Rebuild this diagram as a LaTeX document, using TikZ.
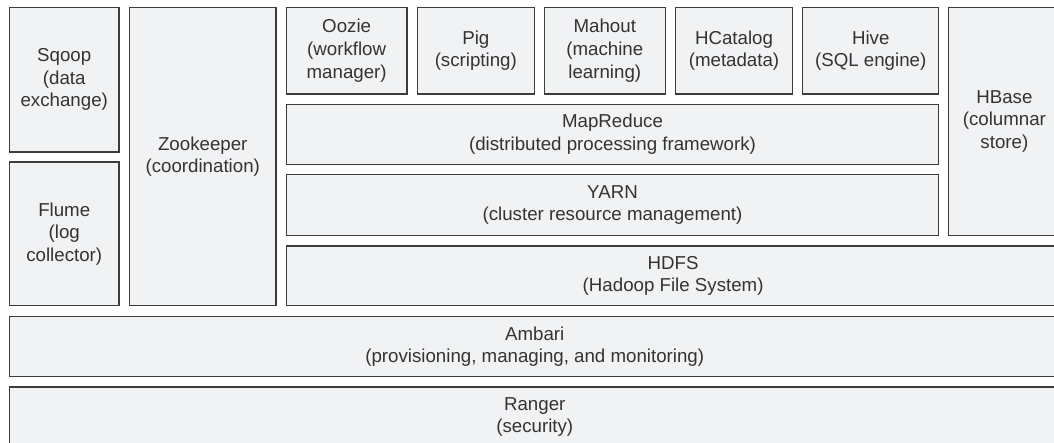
\documentclass[tikz,border=0pt]{standalone}
\usepackage{fontspec}
\setmainfont{Liberation Sans}
\definecolor{boxfill}{HTML}{F1F2F4}
\definecolor{boxline}{HTML}{3C3C3C}
\definecolor{boxtext}{HTML}{333333}

\begin{document}
\begin{tikzpicture}[
    x=1pt, y=-1pt,
    layer/.style={rectangle, draw=boxline, fill=boxfill, line width=1.2pt, inner sep=0pt, align=center, text=boxtext, font=\fontsize{18.7}{22.6}\selectfont},
]
\useasboundingbox (0,0) rectangle (1054,443);
\clip (0,0) rectangle (1054,443);

% Left: side tools
\node[layer, minimum width=109.5, minimum height=144.5] (sqoop) at (64.25, 79.75) {Sqoop\\(data\\exchange)};
\node[layer, minimum width=109.5, minimum height=143.7] (flume) at (64.25, 233.85) {Flume\\(log\\collector)};
\node[layer, minimum width=146.5, minimum height=298.2] (zookeeper) at (202.75, 156.6) {Zookeeper\\(coordination)};

% Top row: applications
\node[layer, minimum width=120.7, minimum height=86.7] (oozie) at (346.65, 50.65) {Oozie\\(workflow\\manager)};
\node[layer, minimum width=117, minimum height=86.7] (pig) at (475.8, 50.65) {Pig\\(scripting)};
\node[layer, minimum width=121, minimum height=86.7] (mahout) at (604.8, 50.65) {Mahout\\(machine\\learning)};
\node[layer, minimum width=116.6, minimum height=86.7] (hcatalog) at (734, 50.65) {HCatalog\\(metadata)};
\node[layer, minimum width=136, minimum height=86.7] (hive) at (870.7, 50.65) {Hive\\(SQL engine)};

% Middle: processing stack
\node[layer, minimum width=652.4, minimum height=60.2] (mapreduce) at (612.5, 134.4) {MapReduce\\(distributed processing framework)};
\node[layer, minimum width=652.4, minimum height=60.5] (yarn) at (612.5, 205) {YARN\\(cluster resource management)};
\node[layer, minimum width=111.3, minimum height=227.8] (hbase) at (1004.35, 121.4) {HBase\\(columnar\\store)};
\node[layer, minimum width=773.7, minimum height=59.7] (hdfs) at (673.15, 275.85) {HDFS\\(Hadoop File System)};

% Bottom: full-width layers (run past the right edge)
\node[layer, minimum width=1050.5, minimum height=60.4] (ambari) at (534.75, 346.5) {Ambari\\(provisioning, managing, and monitoring)};
\node[layer, minimum width=1050.5, minimum height=60] (ranger) at (534.75, 417) {Ranger\\(security)};

\end{tikzpicture}
\end{document}
